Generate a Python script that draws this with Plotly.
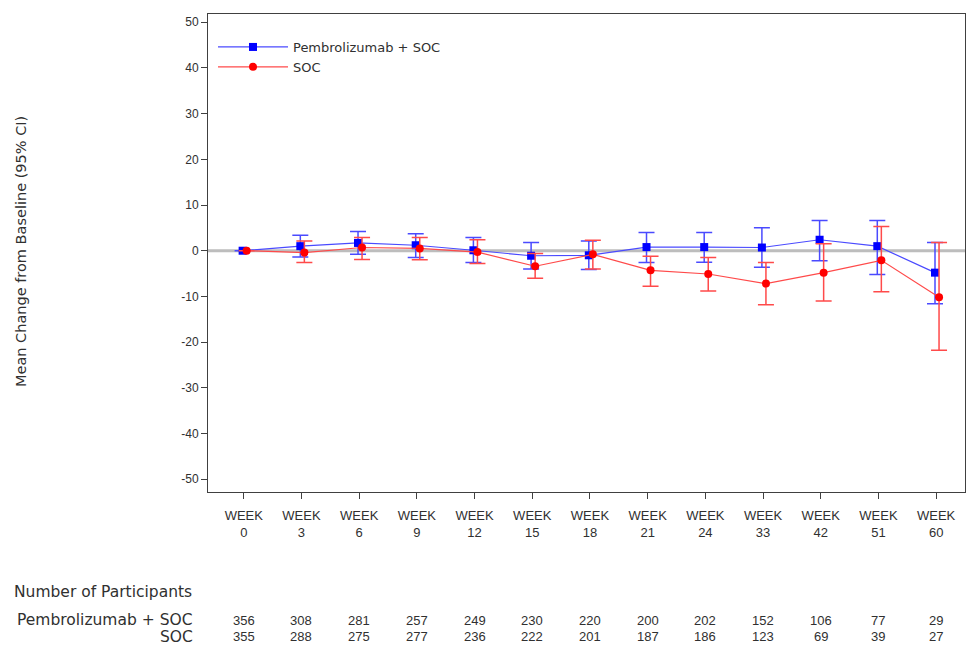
import plotly.graph_objects as go

weeks = ["0", "3", "6", "9", "12", "15", "18", "21", "24", "33", "42", "51", "60"]

pembro_mean = [0, 1.0, 1.7, 1.2, 0.1, -1.1, -1.0, 0.8, 0.8, 0.7, 2.4, 1.0, -4.8]
pembro_lo = [0, -1.4, -0.8, -1.5, -2.6, -4.0, -4.1, -2.6, -2.5, -3.6, -2.2, -5.2, -11.6]
pembro_hi = [0, 3.4, 4.2, 3.7, 2.9, 1.8, 2.1, 4.0, 4.0, 5.0, 6.6, 6.6, 1.8]

soc_mean = [0, -0.4, 0.7, 0.5, -0.3, -3.4, -0.8, -4.3, -5.1, -7.2, -4.8, -2.1, -10.2]
soc_lo = [0, -2.6, -1.9, -2.0, -2.8, -6.0, -4.0, -7.8, -8.8, -11.8, -11.0, -9.0, -21.8]
soc_hi = [0, 2.1, 2.9, 2.9, 2.4, -0.6, 2.3, -1.2, -1.5, -2.6, 1.5, 5.3, 1.8]

n_pembro = [356, 308, 281, 257, 249, 230, 220, 200, 202, 152, 106, 77, 29]
n_soc = [355, 288, 275, 277, 236, 222, 201, 187, 186, 123, 69, 39, 27]

y_ticks = [-50, -40, -30, -20, -10, 0, 10, 20, 30, 40, 50]

FONT = "Liberation Sans"
WIDE = "DejaVu Sans"
TXT = "#303030"
idx = list(range(len(weeks)))

fig = go.Figure()

# reference line at 0
fig.add_shape(type="line", xref="paper", yref="y", x0=0, x1=1, y0=0, y1=0,
              line=dict(color="#bdbdbd", width=3), layer="below")

def add_series(name, mean, lo, hi, offset, color, linecolor, symbol, size):
    fig.add_trace(go.Scatter(
        x=[i + offset for i in idx], y=mean, name=name,
        mode="lines+markers",
        line=dict(color=linecolor, width=1.2),
        marker=dict(color=color, symbol=symbol, size=size),
        error_y=dict(type="data", symmetric=False,
                     array=[h - m for h, m in zip(hi, mean)],
                     arrayminus=[m - l for m, l in zip(mean, lo)],
                     color=linecolor, thickness=1.5, width=8),
        hoverinfo="skip",
    ))

add_series("Pembrolizumab + SOC", pembro_mean, pembro_lo, pembro_hi, -0.02,
           "#0000ff", "#4a4aff", "square", 8)
add_series("SOC", soc_mean, soc_lo, soc_hi, 0.05,
           "#ff0000", "#ff4a4a", "circle", 8)

plot_top, plot_bottom = 14, 492
H = plot_bottom - plot_top
W = 967 - 208 - 2

def py(pix):
    return (plot_bottom - pix) / H

def px(pix):
    return (pix - 208) / W

annotations = []
annotations.append(dict(text="Mean Change from Baseline (95% CI)", xref="paper", yref="paper",
                        x=px(21), y=py(252), textangle=-90, showarrow=False,
                        xanchor="center", yanchor="middle",
                        font=dict(family=WIDE, size=14.5, color=TXT)))
annotations.append(dict(text="Number of Participants", xref="paper", yref="paper",
                        x=px(12), y=py(592), showarrow=False,
                        xanchor="left", yanchor="middle",
                        font=dict(family=WIDE, size=15.5, color=TXT)))
annotations.append(dict(text="Pembrolizumab + SOC", xref="paper", yref="paper",
                        x=px(195), y=py(620), showarrow=False,
                        xanchor="right", yanchor="middle",
                        font=dict(family=WIDE, size=15.5, color=TXT)))
annotations.append(dict(text="SOC", xref="paper", yref="paper",
                        x=px(195), y=py(637), showarrow=False,
                        xanchor="right", yanchor="middle",
                        font=dict(family=WIDE, size=15.5, color=TXT)))
for i in idx:
    annotations.append(dict(text=str(n_pembro[i]), xref="x", yref="paper", x=i, y=py(620),
                            showarrow=False, xanchor="center", yanchor="middle",
                            font=dict(family=FONT, size=13, color=TXT)))
    annotations.append(dict(text=str(n_soc[i]), xref="x", yref="paper", x=i, y=py(637),
                            showarrow=False, xanchor="center", yanchor="middle",
                            font=dict(family=FONT, size=13, color=TXT)))

fig.update_layout(
    width=967, height=649,
    margin=dict(l=208, r=2, t=plot_top, b=649 - plot_bottom),
    paper_bgcolor="white", plot_bgcolor="white",
    font=dict(family=FONT, size=12, color=TXT),
    showlegend=True,
    legend=dict(x=px(213), y=py(32), xanchor="left", yanchor="top",
                bgcolor="rgba(0,0,0,0)", font=dict(family=WIDE, size=13, color=TXT),
                tracegroupgap=0, itemwidth=70),
    annotations=annotations,
    xaxis=dict(range=[-0.62, 12.5], tickmode="array", tickvals=idx,
               ticktext=["WEEK<br>" + w for w in weeks],
               showgrid=False, zeroline=False, showline=True, mirror=True,
               linecolor="#404040", linewidth=1, ticks="outside", ticklen=6,
               ticklabelstandoff=5,
               tickcolor="#404040", tickfont=dict(family=FONT, size=13, color=TXT)),
    yaxis=dict(range=[-52.8, 51.8], tickmode="array", tickvals=y_ticks,
               ticktext=[str(v) for v in y_ticks],
               showgrid=False, zeroline=False, showline=True, mirror=True,
               linecolor="#404040", linewidth=1, ticks="outside", ticklen=6,
               tickcolor="#404040", tickfont=dict(family=FONT, size=12, color=TXT)),
)

fig.write_html("out.html")
